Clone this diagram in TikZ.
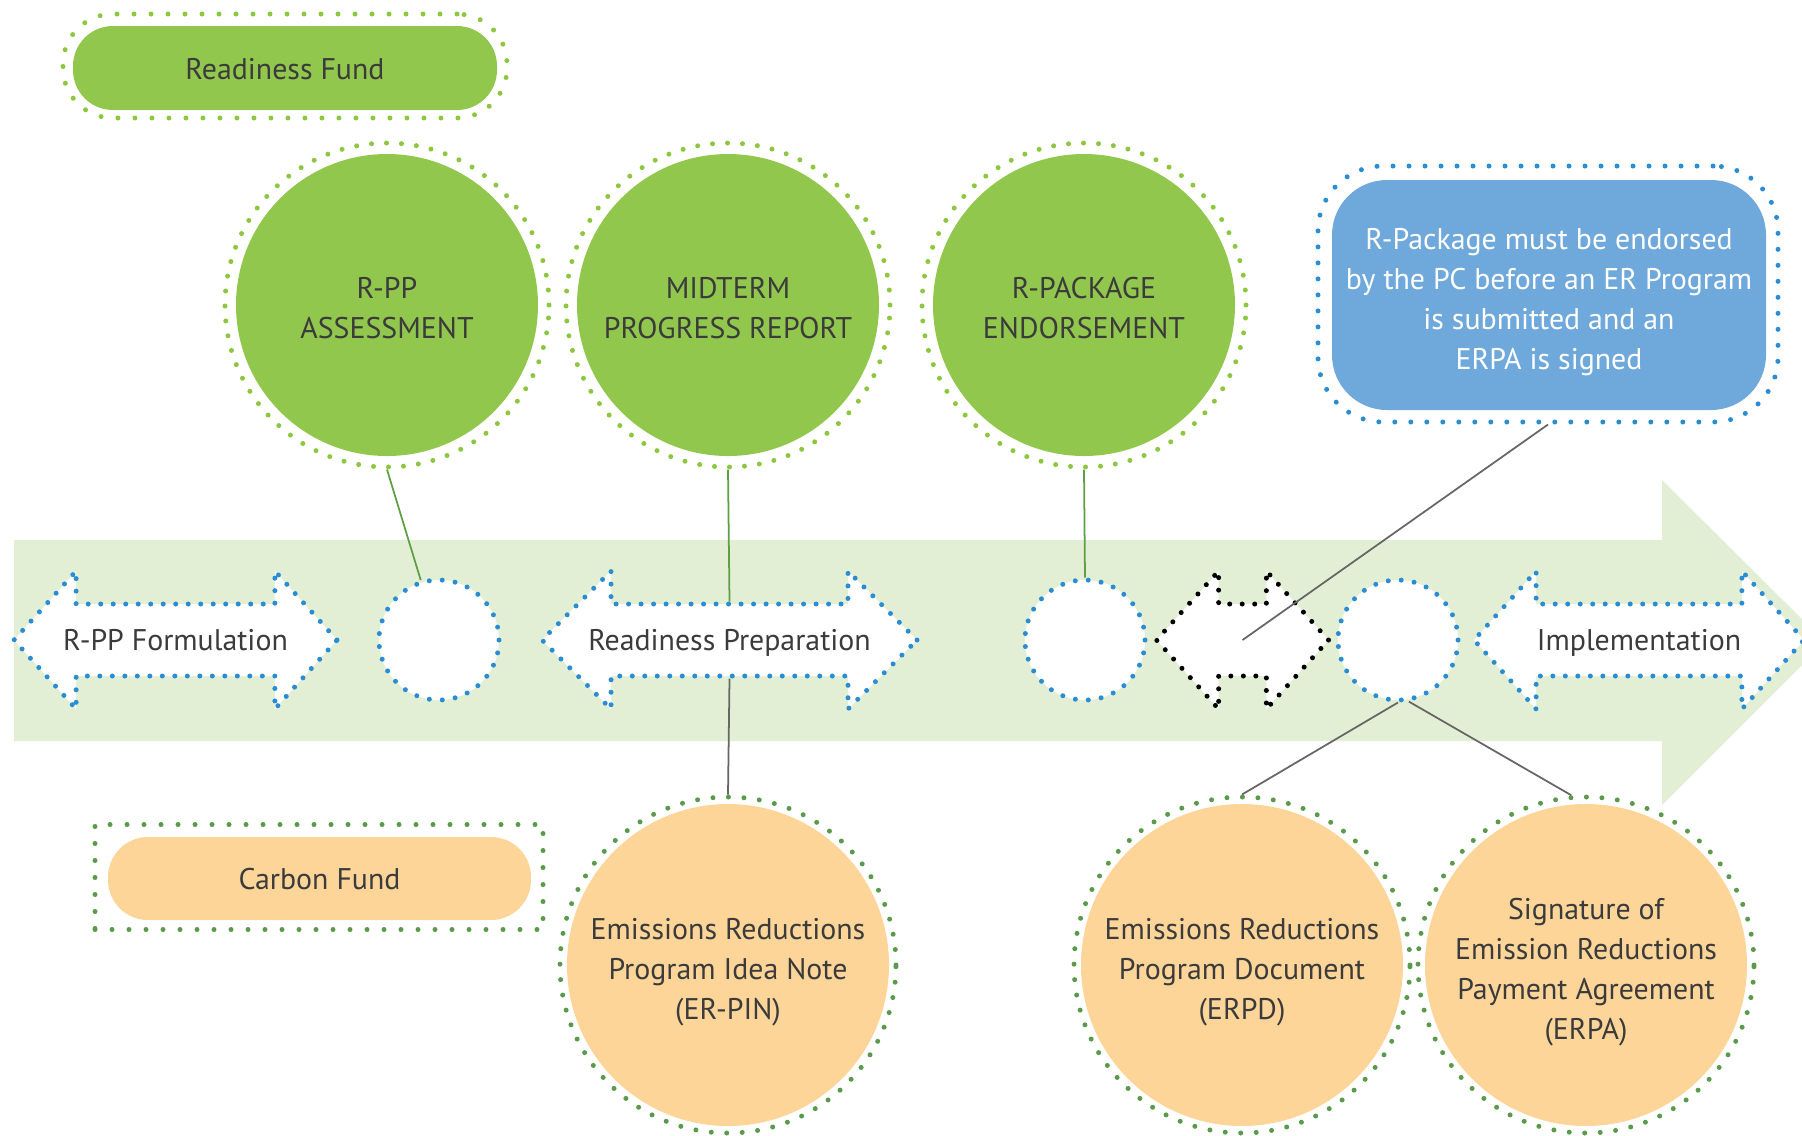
\documentclass[tikz,border=0pt]{standalone}
\usepackage{fontspec}
\setmainfont{PT Sans}
\usetikzlibrary{shapes.arrows}

\definecolor{leafgreen}{HTML}{92C74E}
\definecolor{paleband}{HTML}{E2EFD5}
\definecolor{peach}{HTML}{FDD599}
\definecolor{skyblue}{HTML}{6FA8DA}
\definecolor{dotblue}{HTML}{2A8CD2}
\definecolor{dotgreen}{HTML}{8DC63F}
\definecolor{darkdots}{HTML}{5A9A4A}
\definecolor{inkgray}{HTML}{3B3B3B}
\definecolor{linkgreen}{HTML}{5E9E45}
\definecolor{linkgray}{HTML}{666666}

% strut that pushes a multi-line label a little lower
\newcommand{\lowerby}[1]{\rule{0pt}{#1}}

\tikzset{
  dotline/.style={line width=0.5mm, line cap=round, dash pattern=on 0pt off #1},
  dotline/.default=1.6mm,
  bigdisc/.style={circle, inner sep=0pt, minimum size=30.2mm, align=center, text=inkgray},
  lowdisc/.style={circle, inner sep=0pt, minimum size=32.2mm, align=center, text=inkgray, fill=peach},
  ring/.style={circle, inner sep=0pt, minimum size=32.4mm, dotline=1.5mm},
  lowring/.style={circle, inner sep=0pt, minimum size=33.6mm, draw=darkdots, dotline=1.55mm},
  gapdisc/.style={circle, inner sep=0pt, minimum size=12mm, fill=white, draw=dotblue, dotline=1.3mm},
  twoway/.style={double arrow, draw=dotblue, dotline=1.25mm, fill=white, text=inkgray,
    inner xsep=-3mm, inner ysep=1.95mm, text height=2.42mm, text depth=0.38mm,
    double arrow head extend=3.3mm, double arrow tip angle=96},
  link/.style={line width=0.5pt},
}

\begin{document}
\begin{tikzpicture}[x=0.1mm, y=-0.1mm, font=\fontsize{8.5}{11.4}\selectfont]
\clip (0,0) rectangle (1802,1135);
% timeline band
\fill[paleband] (14,540) -- (1662,540) -- (1662,480) -- (1825,642) -- (1662,805) -- (1662,741) -- (14,741) -- cycle;

% funds
\node[rectangle, rounded corners=5mm, minimum width=44.4mm, minimum height=10.4mm, draw=dotgreen, dotline=1.7mm] (fundring) at (285,66) {};
\node[rectangle, rounded corners=4mm, minimum width=42.4mm, minimum height=8.4mm, fill=leafgreen, text=inkgray,
  text height=2.5mm, text depth=0.3mm] (fund) at (285,68) {Readiness Fund};
\node[rectangle, minimum width=44.8mm, minimum height=10.5mm, draw=darkdots, dotline=1.7mm] (cfundring) at (319,877) {};
\node[rectangle, rounded corners=4mm, minimum width=42.3mm, minimum height=8.3mm, fill=peach, text=inkgray,
  text height=2.5mm, text depth=0.3mm] (cfund) at (319.5,878.5) {Carbon Fund};

% readiness milestones
\node[bigdisc, fill=leafgreen] (rpp) at (387,305) {\lowerby{2.8mm}R-PP\\ASSESSMENT};
\node[ring, draw=dotgreen] (rppring) at (387,305) {};
\node[bigdisc, fill=leafgreen] (mid) at (728,305) {\lowerby{2.8mm}MIDTERM\\PROGRESS REPORT};
\node[ring, draw=dotgreen] (midring) at (728,305) {};
\node[bigdisc, fill=leafgreen] (pkg) at (1084,305) {\lowerby{2.8mm}R-PACKAGE\\ENDORSEMENT};
\node[ring, draw=dotgreen] (pkgring) at (1084,305) {};

% note
\node[rectangle, rounded corners=6.5mm, minimum width=46mm, minimum height=25.6mm, draw=dotblue, dotline=1.6mm] (notering) at (1548,294) {};
\node[rectangle, rounded corners=5.5mm, minimum width=43.4mm, minimum height=23mm, fill=skyblue, text=white, align=center] (note) at (1549,295)
  {\lowerby{3.5mm}R-Package must be endorsed\\by the PC before an ER Program\\is submitted and an\\ERPA is signed};

% phases
\node[twoway, minimum height=32.3mm] (form) at (175.5,640) {R-PP Formulation};
\node[gapdisc] (gap1) at (439,640) {};
\node[twoway, minimum height=37.5mm, double arrow tip angle=90] (prep) at (729.5,640) {Readiness Preparation};
\node[gapdisc] (gap2) at (1085,640) {};
\node[twoway, draw=black, minimum height=17.2mm] (swap) at (1242.5,640) {};
\node[gapdisc] (gap3) at (1398,640) {};
\node[twoway, minimum height=33mm] (impl) at (1639,640) {Implementation};

% carbon fund milestones
\node[lowdisc] (pin) at (728,965) {\lowerby{3.5mm}Emissions Reductions\\Program Idea Note\\(ER-PIN)};
\node[lowring] (pinring) at (728,965) {};
\node[lowdisc] (erpd) at (1242,965) {\lowerby{3.5mm}Emissions Reductions\\Program Document\\(ERPD)};
\node[lowring] (erpdring) at (1242,965) {};
\node[lowdisc] (erpa) at (1586,965) {\lowerby{3.5mm}Signature of\\Emission Reductions\\Payment Agreement\\(ERPA)};
\node[lowring] (erparing) at (1586,965) {};

% links
\draw[link, linkgreen] (rppring.south) -- (gap1);
\draw[link, linkgreen] (midring.south) -- (prep.90);
\draw[link, linkgreen] (pkgring.south) -- (gap2.north);
\draw[link, linkgray] (notering.south) -- (swap.center);
\draw[link, linkgray] (pinring.north) -- (prep.270);
\draw[link, linkgray] (erpdring.north) -- (gap3.south);
\draw[link, linkgray] (erparing.95) -- (gap3.-80);
\end{tikzpicture}
\end{document}
